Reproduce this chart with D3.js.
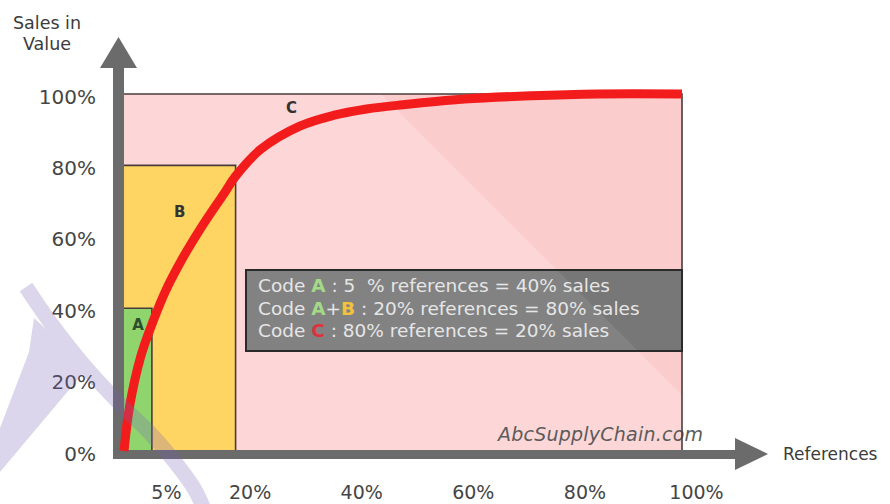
<!DOCTYPE html>
<html>
<head>
<meta charset="utf-8">
<script src="https://cdn.jsdelivr.net/npm/d3@7"></script>
<style>
  html, body { margin: 0; padding: 0; background: #ffffff; }
  svg { display: block; }
</style>
</head>
<body>
<svg id="chart" width="890" height="504"></svg>
<script>
// ABC analysis: cumulative share of sales against share of references
const segments = ["A", "B", "C"];
const segRefs = [5, 20, 100];      // cumulative % of references for each class
const segSales = [40, 80, 100];    // cumulative % of sales for each class
const segFills = ["#90d46e", "#fed462", "#fdd7d7"];

const yTicks = [0, 20, 40, 60, 80, 100];
const xTicks = [5, 20, 40, 60, 80, 100];

// Pareto curve: % of references (sorted by value) vs cumulative % of sales
const curveRefs  = [0, 1, 3, 5.25, 7.5, 10.5, 14, 18, 20, 24.5, 31.5, 37.5, 43.5, 50, 61, 73, 85, 100];
const curveSales = [0, 12.5, 26.5, 36.5, 45, 54, 63, 72.3, 77, 84.5, 91, 94, 95.8, 97, 98.6, 99.5, 100, 100];

// Summary box lines: plain text runs and coloured class letters
const legendLines = [
  [["Code ", null], ["A", "#a3d987"], [" : 5  % references = 40% sales", null]],
  [["Code ", null], ["A", "#a3d987"], ["+", null], ["B", "#f2c23c"], [" : 20% references = 80% sales", null]],
  [["Code ", null], ["C", "#e0303c"], [" : 80% references = 20% sales", null]]
];

const svg = d3.select("#chart");
const x = d3.scaleLinear().domain([0, 100]).range([124, 682]);
const y = d3.scaleLinear().domain([0, 100]).range([451, 94]);

const axisGrey = "#6b6b6b";
const edge = "#4a3c3c";
const sans = "DejaVu Sans, sans-serif";

// class areas, largest first
const order = d3.range(segments.length).reverse();
svg.append("g").selectAll("rect")
  .data(order)
  .join("rect")
  .attr("x", x(0))
  .attr("y", i => y(segSales[i]))
  .attr("width", i => x(segRefs[i]) - x(0))
  .attr("height", i => y(0) - y(segSales[i]))
  .attr("fill", i => segFills[i]);

// light sheen: slightly darker triangle across the upper-right of the C area
const sheen = 287; // x - y along the sheen edge
svg.append("polygon")
  .attr("points", [[y(100) + sheen, y(100)], [x(100), y(100)], [x(100), x(100) - sheen]].join(" "))
  .attr("fill", "#fbcccc");

// watermark text
svg.append("text")
  .attr("x", 498).attr("y", 441)
  .attr("textLength", 205)
  .attr("font-family", sans)
  .attr("font-style", "italic")
  .attr("font-size", 19)
  .attr("fill", "#5b5b5b")
  .text("AbcSupplyChain.com");

// top and right borders of each class area
svg.append("g").selectAll("path")
  .data(order)
  .join("path")
  .attr("d", i => `M${x(0)},${y(segSales[i])}H${x(segRefs[i])}V${y(0)}`)
  .attr("fill", "none")
  .attr("stroke", edge)
  .attr("stroke-width", 1.6);

// class letters
const letterPos = [
  [(x(0) + x(segRefs[0])) / 2, y(segSales[0]) + 17],
  [(x(0) + x(segRefs[1])) / 2, y(segSales[1]) + 47],
  [x(30), y(segSales[2]) + 14]
];
svg.append("g").selectAll("text")
  .data(segments)
  .join("text")
  .attr("x", (d, i) => letterPos[i][0])
  .attr("y", (d, i) => letterPos[i][1])
  .attr("text-anchor", "middle")
  .attr("dominant-baseline", "central")
  .attr("font-family", sans)
  .attr("font-weight", "bold")
  .attr("font-size", 15)
  .attr("fill", (d, i) => i === 0 ? "#2d4f2d" : "#333333")
  .text(d => d);

// summary box
const box = { x0: 246, x1: x(100), y0: 270, y1: 351 };
svg.append("rect")
  .attr("x", box.x0).attr("y", box.y0)
  .attr("width", box.x1 - box.x0).attr("height", box.y1 - box.y0)
  .attr("fill", "#828282");
svg.append("polygon")
  .attr("points", [[box.y0 + sheen, box.y0], [box.x1, box.y0], [box.x1, box.y1], [box.y1 + sheen, box.y1]].join(" "))
  .attr("fill", "#777777");
svg.append("rect")
  .attr("x", box.x0).attr("y", box.y0)
  .attr("width", box.x1 - box.x0).attr("height", box.y1 - box.y0)
  .attr("fill", "none")
  .attr("stroke", "#2a2a2a")
  .attr("stroke-width", 2);

const lineY = [292, 314.5, 337];
const legendText = svg.append("g")
  .attr("font-family", sans)
  .attr("font-size", 18.5);
legendLines.forEach((parts, li) => {
  const t = legendText.append("text")
    .attr("x", 258).attr("y", lineY[li])
    .attr("xml:space", "preserve")
    .style("white-space", "pre");
  parts.forEach(([s, c]) => {
    t.append("tspan")
      .style("white-space", "pre")
      .attr("fill", c || "#e6e6e6")
      .attr("font-weight", c ? "bold" : "normal")
      .text(s);
  });
});

// axis bars with arrowheads
const barL = x(0) - 11;
svg.append("rect").attr("x", barL).attr("y", 68).attr("width", 11).attr("height", 459 - 68).attr("fill", axisGrey);
svg.append("polygon").attr("points", "100,68 137,68 118.5,37").attr("fill", axisGrey);
svg.append("rect").attr("x", barL).attr("y", 450).attr("width", 737 - barL).attr("height", 9).attr("fill", axisGrey);
svg.append("polygon").attr("points", "735,438 735,470 768,454").attr("fill", axisGrey);

// tick labels
const yAxis = svg.append("g")
  .attr("transform", `translate(${barL},0)`)
  .call(d3.axisLeft(y).tickValues(yTicks).tickFormat(d => d + "%").tickSize(0).tickPadding(17));
yAxis.select(".domain").remove();
yAxis.selectAll("text")
  .attr("dy", "0.45em")
  .attr("font-family", sans)
  .attr("font-size", 20)
  .attr("fill", "#454545");

const xAxis = svg.append("g")
  .attr("transform", `translate(0,${y(0)})`)
  .call(d3.axisBottom(x).tickValues(xTicks).tickFormat(d => d + "%").tickSize(0).tickPadding(35));
xAxis.select(".domain").remove();
xAxis.selectAll("text")
  .attr("dx", 14)
  .attr("font-family", sans)
  .attr("font-size", 19)
  .attr("fill", "#454545");

// axis titles
const titles = svg.append("g").attr("font-family", sans).attr("font-size", 17.5).attr("fill", "#3c3c3c");
titles.append("text").attr("x", 47).attr("y", 29).attr("text-anchor", "middle").text("Sales in");
titles.append("text").attr("x", 47).attr("y", 49.5).attr("text-anchor", "middle").text("Value");
titles.append("text").attr("x", 783).attr("y", 460).attr("font-size", 17).text("References");

// Pareto curve
const line = d3.line()
  .x((d, i) => x(curveRefs[i]))
  .y(d => y(d))
  .curve(d3.curveCatmullRom.alpha(0.5));
svg.append("path")
  .attr("d", line(curveSales))
  .attr("fill", "none")
  .attr("stroke", "#f21c1c")
  .attr("stroke-width", 9);

// translucent logo mark in the lower left
const mark = svg.append("g").attr("opacity", 0.26);
const markLine = d3.line().curve(d3.curveCatmullRom);
mark.append("path")
  .attr("d", markLine([[26, 287], [50, 322], [83, 364], [120, 404], [150, 433], [175, 462], [195, 490], [205, 512]]))
  .attr("fill", "none")
  .attr("stroke", "#7a63b8")
  .attr("stroke-width", 15);
mark.append("polygon")
  .attr("points", "0,428 29,352 34,318 58,340 84,372 0,472")
  .attr("fill", "#7a63b8");
</script>
</body>
</html>
